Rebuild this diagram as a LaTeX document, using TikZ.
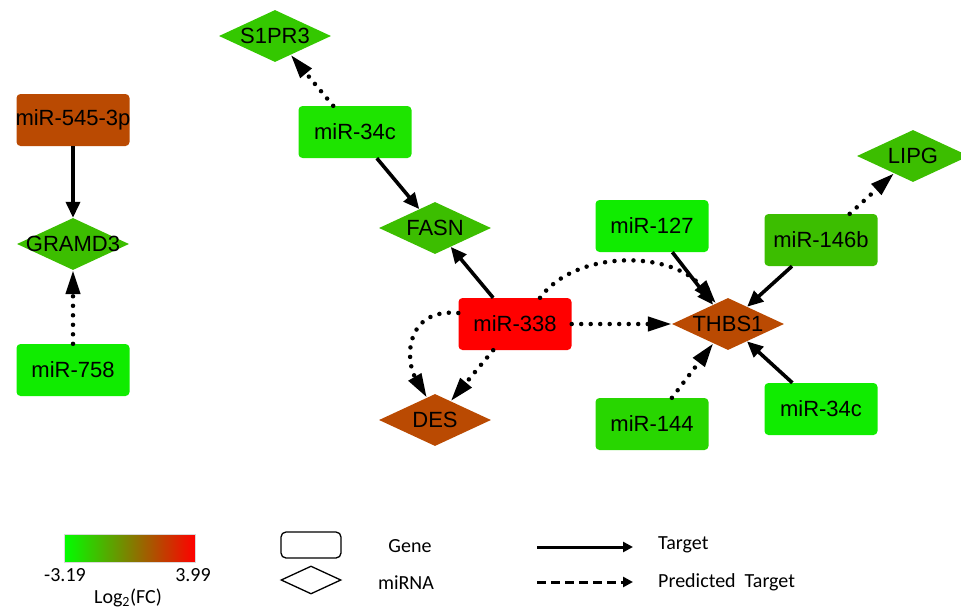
\documentclass[tikz,border=0pt]{standalone}
\usepackage{fontspec}
\setmainfont{Liberation Sans}
\newfontfamily\legendfont{Carlito}
\usetikzlibrary{shapes.geometric,arrows.meta}
\definecolor{cbrown}{RGB}{186,74,2}
\definecolor{cgA}{RGB}{16,236,0}
\definecolor{cgB}{RGB}{30,228,0}
\definecolor{cgC}{RGB}{40,214,0}
\definecolor{cgD}{RGB}{52,200,0}
\definecolor{cgE}{RGB}{60,190,0}
\definecolor{cred}{RGB}{255,0,0}
\definecolor{cmid}{RGB}{140,100,0}
\begin{document}
\begin{tikzpicture}[x=1pt,y=-1pt,
  mirbox/.style={rectangle, rounded corners=4pt, minimum width=113pt, minimum height=52pt, inner sep=0pt},
  genebox/.style={diamond, minimum width=112pt, minimum height=52pt, inner sep=0pt},
  lbl/.style={font=\fontsize{22}{22}\selectfont, inner sep=0pt},
  tgt/.style={line width=3.6pt, -{Triangle[length=16pt,width=14pt]}},
  pred/.style={line width=4.5pt, line cap=round, dash pattern=on 0pt off 9.5pt, -{Triangle[length=24pt,width=14pt]}},
  legtxt/.style={font=\legendfont\fontsize{20}{20}\selectfont, inner sep=0pt},
]
\useasboundingbox (0,0) rectangle (961,610);
\clip (0,0) rectangle (961,610);

% miRNA boxes
\node[mirbox, fill=cbrown, label={[lbl]center:miR-545-3p}] (m545) at (73,120) {};
\node[mirbox, fill=cgA, label={[lbl]center:miR-758}] (m758) at (73,370) {};
\node[mirbox, fill=cgB, label={[lbl]center:miR-34c}] (m34a) at (355,132) {};
\node[mirbox, fill=cred, label={[lbl]center:miR-338}] (m338) at (515,324) {};
\node[mirbox, fill=cgA, label={[lbl]center:miR-127}] (m127) at (652,226) {};
\node[mirbox, fill=cgE, label={[lbl]center:miR-146b}] (m146) at (821,240) {};
\node[mirbox, fill=cgC, label={[lbl]center:miR-144}] (m144) at (652,424) {};
\node[mirbox, fill=cgA, label={[lbl]center:miR-34c}] (m34b) at (821,409) {};

% gene diamonds
\node[genebox, fill=cgE, label={[lbl]center:GRAMD3}] (gramd) at (73,244) {};
\node[genebox, fill=cgD, label={[lbl]center:S1PR3}] (s1pr) at (275,36) {};
\node[genebox, fill=cgE, label={[lbl]center:FASN}] (fasn) at (435,228) {};
\node[genebox, fill=cbrown, label={[lbl]center:DES}] (des) at (435,420) {};
\node[genebox, fill=cbrown, label={[lbl]center:THBS1}] (thbs) at (728,324) {};
\node[genebox, fill=cgE, label={[lbl]center:LIPG}] (lipg) at (913,156) {};

% edges
\draw[tgt] (m545) -- (gramd);
\draw[pred] (m758) -- (gramd);
\draw[pred] (m34a) -- (s1pr);
\draw[tgt] (m34a) -- (fasn);
\draw[tgt] (m338) -- (fasn);
\draw[pred] (m338) -- (thbs);
\draw[pred] ([xshift=25pt]m338.north) .. controls (575,250) and (670,250) .. (thbs.120);
\draw[pred] ([yshift=11pt]m338.west) .. controls (405,308) and (405,360) .. (des.110);
\draw[pred] (m338) -- (des);
\draw[tgt] (m127) -- (thbs);
\draw[tgt] (m146) -- (thbs);
\draw[pred] (m146) -- (lipg);
\draw[pred] (m144) -- (thbs);
\draw[tgt] (m34b) -- (thbs);

% legend
\shade[left color=green, middle color=cmid, right color=red] (64,534) rectangle (195,562);
\node[inner sep=0pt, minimum width=131pt, minimum height=28pt, draw=black!15, line width=0.6pt] (bar) at (129.5,548) {};
\node[legtxt] (lmin) at (65,575) {-3.19};
\node[legtxt] (lmax) at (193,575) {3.99};
\node[legtxt] (lfc) at (128,598) {Log\textsubscript{2}(FC)};

\node[draw=black, line width=1.3pt, rounded corners=5pt, minimum width=60pt, minimum height=26pt, inner sep=0pt] (lgene) at (311,545) {};
\node[draw=black, line width=1.3pt, diamond, minimum width=60pt, minimum height=28pt, inner sep=0pt] (lmir) at (311,580) {};
\node[legtxt] (tgene) at (410,546) {Gene};
\node[legtxt] (tmir) at (406,583) {miRNA};

\coordinate (a1s) at (537,547);
\coordinate (a1e) at (633,547);
\coordinate (a2s) at (537,582);
\coordinate (a2e) at (633,582);
\draw[line width=3pt, -{Triangle[length=10pt,width=10pt]}] (a1s) -- (a1e);
\draw[line width=3pt, dash pattern=on 9pt off 5pt, -{Triangle[length=10pt,width=10pt]}] (a2s) -- (a2e);
\node[legtxt, anchor=west] (ttgt) at (658,545) {Target};
\node[legtxt, anchor=west] (tpred) at (658,582) {Predicted\ \ Target};
\end{tikzpicture}
\end{document}
